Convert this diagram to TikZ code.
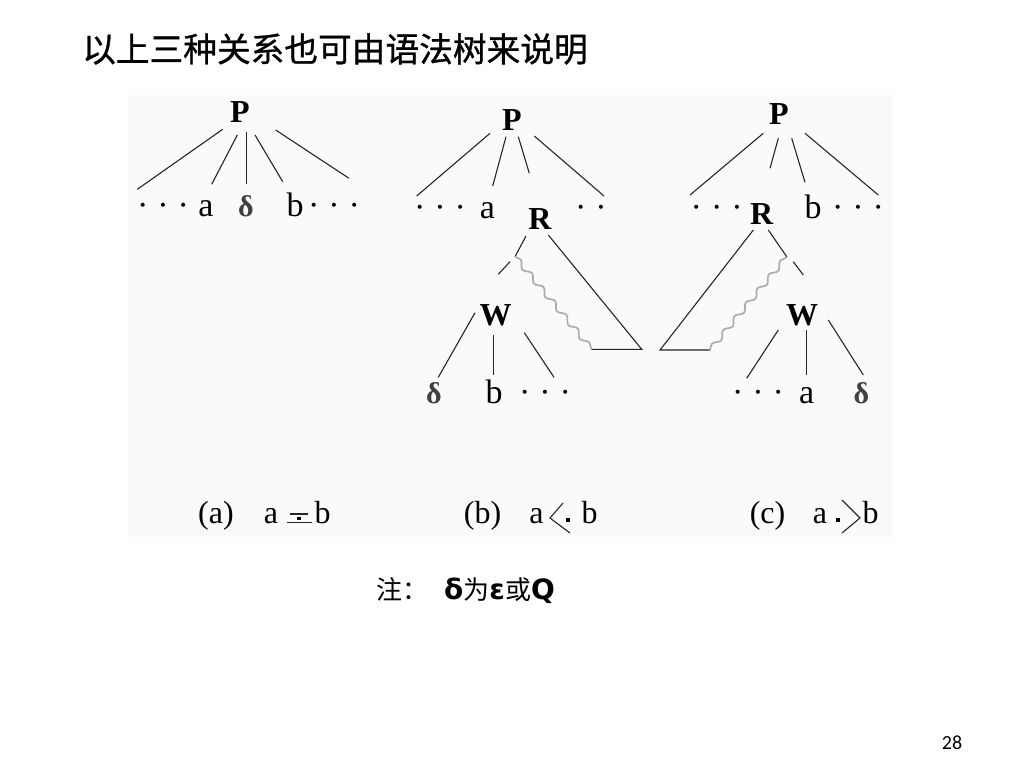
\documentclass[tikz,border=0pt]{standalone}
\usepackage{fontspec}
\usetikzlibrary{decorations.pathmorphing}
\setmainfont{Liberation Serif}
\newfontfamily\serifL{Liberation Serif}
\newfontfamily\cjkf{Noto Sans CJK SC}
\newfontfamily\cjkt{Noto Sans CJK SC}[FakeBold=0.9]
\newfontfamily\dvs{DejaVu Sans}
\newfontfamily\carl{Carlito}
\definecolor{bgc}{HTML}{FAFAFA}
\newcommand\tdots{·\kern9pt·\kern9pt·}
\newcommand\twodots{·\kern9pt·}
\tikzset{
  edge/.style={line width=1.1pt, black!85},
  wavy/.style={gray!65, line width=1.7pt, decorate,
    decoration={snake, amplitude=2.6pt, segment length=18pt}},
  nt/.style={font=\serifL\bfseries\fontsize{32}{32}\selectfont, inner sep=0pt},
  leaf/.style={font=\serifL\fontsize{34}{34}\selectfont, inner sep=0pt, anchor=base},
  dlt/.style={font=\serifL\bfseries\fontsize{30}{30}\selectfont, inner sep=0pt, anchor=base, text=black!75},
  captxt/.style={font=\serifL\fontsize{32}{32}\selectfont, inner sep=0pt, anchor=base},
  sym/.style={line width=1.1pt, black!85},
}
\begin{document}
\begin{tikzpicture}[x=1pt,y=-1pt]
\useasboundingbox (0,0) rectangle (1024,768);
\fill[white] (0,0) rectangle (1024,768);
\fill[bgc] (128,95) rectangle (892,537);

% title
\node[anchor=west, inner sep=0pt, font=\cjkt\fontsize{33.7}{34}\selectfont] (title) at (82,49) {以上三种关系也可由语法树来说明};

% ---------- tree (a) ----------
\node[nt] (Pa) at (240,112) {P};
\node[leaf] (ad1) at (163,216) {\tdots};
\node[leaf] (aa) at (206,216) {a};
\node[dlt] (adl) at (246,216) {δ};
\node[leaf] (ab) at (295,216) {b};
\node[leaf] (ad2) at (334,216) {\tdots};
\path (222.7,129.3) coordinate (a1s) (137.3,189.3) coordinate (a1e)
      (237.3,135) coordinate (a2s) (211.7,184.3) coordinate (a2e)
      (246.7,131.7) coordinate (a3s) (246.7,184.3) coordinate (a3e)
      (255,135) coordinate (a4s) (282.7,181.7) coordinate (a4e)
      (275.7,130) coordinate (a5s) (349,178.3) coordinate (a5e);
\draw[edge] (a1s) -- (a1e);
\draw[edge] (a2s) -- (a2e);
\draw[edge] (a3s) -- (a3e);
\draw[edge] (a4s) -- (a4e);
\draw[edge] (a5s) -- (a5e);

% ---------- tree (b) ----------
\node[nt] (Pb) at (512,120) {P};
\node[leaf] (bd1) at (440,218) {\tdots};
\node[leaf] (ba) at (487.5,218) {a};
\node[leaf] (bd2) at (591,218) {\twodots};
\node[nt] (Rb) at (540,219) {R};
\node[nt] (Wb) at (495.5,315.5) {W};
\node[dlt] (bdl) at (434,403) {δ};
\node[leaf] (bb) at (494,403) {b};
\node[leaf] (bd3) at (545,403) {\tdots};
\path (490,133.3) coordinate (b1s) (416.7,196) coordinate (b1e)
      (506,136.7) coordinate (b2s) (492.7,186) coordinate (b2e)
      (518.3,136.7) coordinate (b3s) (529.3,173.3) coordinate (b3e)
      (534.3,136) coordinate (b4s) (604,196) coordinate (b4e)
      (526,236) coordinate (bRl) (515,256.7) coordinate (bWv)
      (510,261.7) coordinate (bRm) (498.3,274.3) coordinate (bRn)
      (591.7,349.3) coordinate (bB1) (641.7,349.3) coordinate (bB2)
      (548.3,235) coordinate (bRr)
      (475,312.7) coordinate (bw1s) (438.3,377.3) coordinate (bw1e)
      (493.3,335) coordinate (bw2s) (493.3,375) coordinate (bw2e)
      (524.3,332.7) coordinate (bw3s) (554,377.3) coordinate (bw3e);
\draw[edge] (b1s) -- (b1e);
\draw[edge] (b2s) -- (b2e);
\draw[edge] (b3s) -- (b3e);
\draw[edge] (b4s) -- (b4e);
\draw[edge] (bRl) -- (bWv);
\draw[edge] (bRm) -- (bRn);
\draw[wavy] (bWv) -- (bB1);
\draw[edge] (bB1) -- (bB2) -- (bRr);
\draw[edge] (bw1s) -- (bw1e);
\draw[edge] (bw2s) -- (bw2e);
\draw[edge] (bw3s) -- (bw3e);

% ---------- tree (c) ----------
\node[nt] (Pc) at (779,114) {P};
\node[leaf] (cd1) at (716.7,218) {\tdots};
\node[nt] (Rc) at (761.7,214) {R};
\node[leaf] (cb) at (813,218) {b};
\node[leaf] (cd2) at (858,218) {\tdots};
\node[nt] (Wc) at (802,315) {W};
\node[leaf] (cd3) at (758,403) {\tdots};
\node[leaf] (ca) at (806.7,403) {a};
\node[dlt] (cdl) at (861.5,403) {δ};
\path (763.3,133.3) coordinate (c1s) (690,195) coordinate (c1e)
      (778.3,138.3) coordinate (c2s) (770,168.3) coordinate (c2e)
      (791.7,138.3) coordinate (c3s) (805,182.3) coordinate (c3e)
      (805,133.3) coordinate (c4s) (878.3,195) coordinate (c4e)
      (753.3,230) coordinate (cRl) (660,350) coordinate (cB1) (710,350) coordinate (cB2)
      (786.7,256.7) coordinate (cWv) (768.3,230) coordinate (cRr)
      (793.3,261.7) coordinate (cRm) (803.3,275) coordinate (cRn)
      (778.3,330) coordinate (cw1s) (746.7,378.3) coordinate (cw1e)
      (806.7,330) coordinate (cw2s) (806.7,375) coordinate (cw2e)
      (828.3,320) coordinate (cw3s) (863.3,375) coordinate (cw3e);
\draw[edge] (c1s) -- (c1e);
\draw[edge] (c2s) -- (c2e);
\draw[edge] (c3s) -- (c3e);
\draw[edge] (c4s) -- (c4e);
\draw[edge] (cRl) -- (cB1) -- (cB2);
\draw[wavy] (cB2) -- (cWv);
\draw[edge] (cRr) -- (cWv);
\draw[edge] (cRm) -- (cRn);
\draw[edge] (cw1s) -- (cw1e);
\draw[edge] (cw2s) -- (cw2e);
\draw[edge] (cw3s) -- (cw3e);

% ---------- captions ----------
\node[captxt] (capa) at (216,523) {(a)};
\node[captxt] (capaa) at (271,523) {a};
\node[captxt] (capab) at (322.5,523) {b};
\draw[sym] (290,514) -- (308,514);
\draw[sym] (287,522.5) -- (312,522.5);
\fill[black] (297.2,516.5) rectangle (300.8,520.1);

\node[captxt] (capb) at (482.5,523) {(b)};
\node[captxt] (capba) at (536.5,523) {a};
\node[captxt] (capbb) at (589.5,523) {b};
\draw[sym] (563,503) -- (550,518) -- (570,533);
\fill[black] (566.2,518.2) rectangle (569.8,521.8);

\node[captxt] (capc) at (767.5,523) {(c)};
\node[captxt] (capca) at (820,523) {a};
\node[captxt] (capcb) at (870.5,523) {b};
\draw[sym] (842,500) -- (860,518) -- (842,533);
\fill[black] (836.2,518.2) rectangle (839.8,521.8);

% note
\node[anchor=west, inner sep=0pt, font=\cjkf\fontsize{26}{26}\selectfont] (note) at (376,591)
  {注：\hspace{16pt}{\dvs\bfseries\fontsize{28}{28}\selectfont δ}为{\dvs\bfseries\fontsize{28}{28}\selectfont ε}或{\dvs\bfseries\fontsize{28}{28}\selectfont Q}};

% page number
\node[inner sep=0pt, font=\carl\fontsize{20}{20}\selectfont] (pg) at (952,742.5) {28};
\end{tikzpicture}
\end{document}
